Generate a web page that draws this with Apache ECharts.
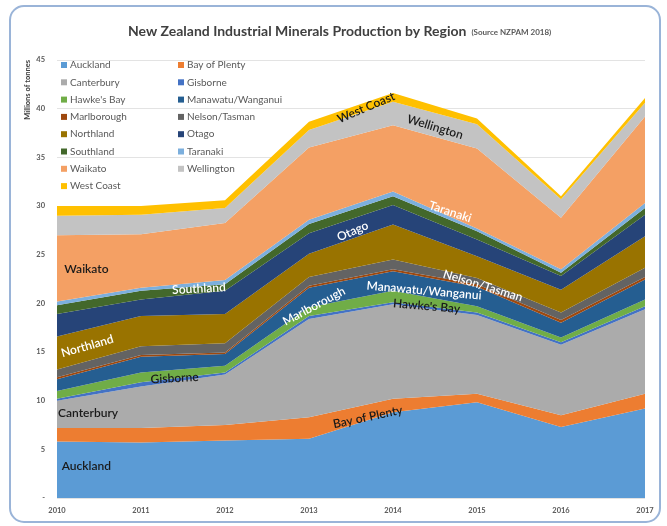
<!DOCTYPE html>
<html><head><meta charset="utf-8">
<script src="https://cdn.jsdelivr.net/npm/echarts@6/dist/echarts.min.js"></script>
<style>html,body{margin:0;padding:0;background:#fff}#c{width:667px;height:526px}</style>
</head><body><div id="c"></div>
<script>
const years = ['2010','2011','2012','2013','2014','2015','2016','2017'];
const auckland    = [5.8, 5.7, 5.9, 6.1, 8.8, 9.85, 7.3, 9.2];
const bayOfPlenty = [1.4, 1.5, 1.6, 2.2, 1.4, 0.85, 1.2, 1.5];
const canterbury  = [2.8, 4.25, 5.2, 10.1, 9.7, 8.1, 7.25, 8.7];
const gisborne    = [0.2, 0.45, 0.2, 0.3, 0.2, 0.25, 0.25, 0.3];
const hawkesBay   = [0.8, 1.0, 0.7, 0.9, 1.2, 0.65, 0.5, 0.7];
const manawatu    = [1.2, 1.6, 1.2, 2.0, 2.0, 2.0, 1.5, 2.05];
const marlborough = [0.2, 0.2, 0.15, 0.2, 0.2, 0.25, 0.3, 0.25];
const nelson      = [0.8, 0.9, 0.95, 0.9, 1.0, 0.65, 0.75, 0.95];
const northland   = [3.4, 3.1, 3.0, 2.4, 3.6, 2.25, 2.35, 3.25];
const otago       = [2.3, 1.7, 2.4, 2.1, 2.0, 1.7, 1.4, 2.2];
const southland   = [0.9, 0.9, 0.65, 0.95, 0.9, 0.85, 0.35, 0.7];
const taranaki    = [0.4, 0.3, 0.45, 0.45, 0.5, 0.3, 0.35, 0.5];
const waikato     = [6.8, 5.5, 5.85, 7.4, 6.8, 8.2, 5.3, 8.9];
const wellington  = [2.0, 2.0, 1.55, 1.8, 2.4, 2.5, 1.9, 1.4];
const westCoast   = [1.0, 0.9, 0.8, 0.85, 0.9, 0.6, 0.3, 0.5];

const seriesNames = ['Auckland','Bay of Plenty','Canterbury','Gisborne',"Hawke's Bay",'Manawatu/Wanganui','Marlborough','Nelson/Tasman','Northland','Otago','Southland','Taranaki','Waikato','Wellington','West Coast'];
const seriesData = [auckland,bayOfPlenty,canterbury,gisborne,hawkesBay,manawatu,marlborough,nelson,northland,otago,southland,taranaki,waikato,wellington,westCoast];
const colors = ['#5B9BD5','#ED7D31','#ABABAB','#4472C4','#70AD47','#255E91','#9E480E','#636363','#997300','#264478','#43682B','#7CAFDD','#F4A064','#C3C3C3','#FFC000'];

// area labels: [text, category position, value, rotation (deg, ccw), colour]
const areaLabels = [
  ['Auckland', 0.35, 3.3, 0, '#1a1a1a'],
  ['Canterbury', 0.37, 8.7, 0, '#1a1a1a'],
  ['Gisborne', 1.40, 12.3, 3, '#1a1a1a'],
  ['Northland', 0.36, 15.6, 16, '#ffffff'],
  ['Waikato', 0.35, 23.5, 0, '#1a1a1a'],
  ['Southland', 1.69, 21.5, 3, '#ffffff'],
  ['Marlborough', 3.06, 19.7, 28, '#ffffff'],
  ['Manawatu/Wanganui', 4.37, 21.3, -5, '#ffffff'],
  ["Hawke's Bay", 4.40, 19.7, -5, '#1a1a1a'],
  ['Bay of Plenty', 3.70, 8.3, 12, '#1a1a1a'],
  ['Nelson/Tasman', 5.07, 21.8, -17, '#ffffff'],
  ['Otago', 3.52, 27.4, 24, '#ffffff'],
  ['Taranaki', 4.68, 29.4, -18, '#ffffff'],
  ['Wellington', 4.50, 38.1, -17, '#1a1a1a'],
  ['West Coast', 3.68, 40.1, 23, '#1a1a1a']
];

const chart = echarts.init(document.getElementById('c'), null, {renderer:'canvas'});
const FONT = 'Lato';
const legendCommon = {
  orient: 'vertical', top: 54, itemWidth: 6, itemHeight: 6, itemGap: 5.3, icon: 'rect',
  textStyle: {fontFamily: FONT, fontSize: 10, color: '#595959', lineHeight: 12, padding:[0,0,0,-2]},
  selectedMode: false
};
chart.setOption({
  backgroundColor: '#ffffff',
  animation: false,
  title: {
    text: '{a|New Zealand Industrial Minerals Production by Region} {b|(Source NZPAM 2018)}',
    left: 123, top: 17,
    textStyle: {rich: {
      a: {fontFamily: FONT, fontSize: 14, fontWeight: 'bold', color: '#404040'},
      b: {fontFamily: FONT, fontSize: 8, color: '#595959', padding:[3,0,0,0]}
    }}
  },
  legend: [
    Object.assign({left: 56, data: seriesNames.filter((n,i)=>i%2===0)}, legendCommon),
    Object.assign({left: 173, data: seriesNames.filter((n,i)=>i%2===1)}, legendCommon)
  ],
  grid: {left: 57, right: 22, top: 60, bottom: 28, containLabel: false},
  xAxis: {
    type: 'category', data: years, boundaryGap: false,
    axisLine: {show: false}, axisTick: {show: false},
    axisLabel: {fontFamily: FONT, fontSize: 7.5, fontWeight: 'bold', color: '#595959', margin: 9}
  },
  yAxis: {
    type: 'value', min: 0, max: 45, interval: 5,
    axisLine: {show: false}, axisTick: {show: false},
    axisLabel: {fontFamily: FONT, fontSize: 7.5, fontWeight: 'bold', color: '#595959', margin: 12,
      formatter: v => v === 0 ? '-' : String(v)},
    splitLine: {lineStyle: {color: '#e3e3e3', width: 1}}
  },
  series: seriesNames.map((n, i) => ({
    name: n, type: 'line', stack: 'total', data: seriesData[i],
    symbol: 'none', lineStyle: {width: 0}, color: colors[i],
    areaStyle: {color: colors[i], opacity: 1}
  })),
  graphic: []
});

function toPix(x, v) {
  const i0 = Math.floor(x), i1 = Math.min(i0 + 1, years.length - 1);
  const p0 = chart.convertToPixel({gridIndex: 0}, [i0, v]);
  const p1 = chart.convertToPixel({gridIndex: 0}, [i1, v]);
  const t = x - i0;
  return [p0[0] + (p1[0] - p0[0]) * t, p0[1]];
}
const g = [{
  type: 'rect', shape: {x: 10, y: 6, width: 650, height: 516, r: 14},
  style: {fill: 'none', stroke: '#9ab4d8', lineWidth: 2}, z: 100
}, {
  type: 'text', x: 28, y: 60, rotation: Math.PI / 2, z: 50,
  style: {text: 'Millions of tonnes', fill: '#404040', font: 'bold 7.5px ' + FONT, align: 'right', verticalAlign: 'middle'}
}];
areaLabels.forEach(l => {
  const p = toPix(l[1], l[2]);
  g.push({type: 'text', x: p[0], y: p[1], rotation: l[3] * Math.PI / 180, z: 50,
    style: {text: l[0], fill: l[4], font: '600 12px ' + FONT, align: 'center', verticalAlign: 'middle'}});
});
chart.setOption({graphic: g});
</script></body></html>
